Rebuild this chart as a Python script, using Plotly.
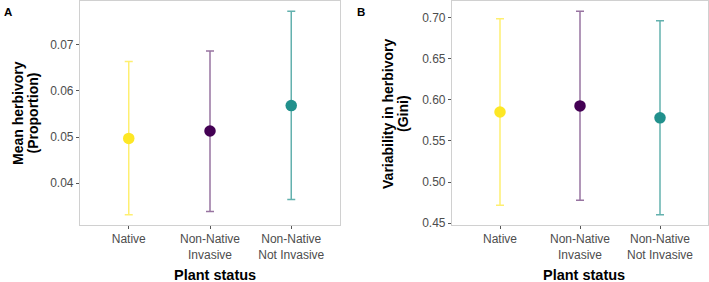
import plotly.graph_objects as go

categories = ["Native", "Non-Native<br>Invasive", "Non-Native<br>Not Invasive"]
colors = ["#FDE725", "#440154", "#21908C"]
bar_colors = ["rgba(253,231,37,0.65)", "rgba(68,1,84,0.55)", "rgba(33,144,140,0.7)"]

mean_herb = [0.0497, 0.0513, 0.0568]
mean_low = [0.0332, 0.0339, 0.0365]
mean_high = [0.0663, 0.0686, 0.0772]

gini = [0.5851, 0.5925, 0.5780]
gini_low = [0.4717, 0.4780, 0.4603]
gini_high = [0.6983, 0.7075, 0.6960]

yticks_a = [0.04, 0.05, 0.06, 0.07]
yticks_b = [0.45, 0.50, 0.55, 0.60, 0.65, 0.70]

fig = go.Figure()

def add_panel(vals, lo, hi, xa, ya):
    for i, c in enumerate(categories):
        fig.add_trace(go.Scatter(
            x=[c], y=[vals[i]], mode="markers",
            marker=dict(color=colors[i], size=11.5),
            error_y=dict(type="data", symmetric=False,
                         array=[hi[i] - vals[i]], arrayminus=[vals[i] - lo[i]],
                         color=bar_colors[i], thickness=1.5, width=4),
            xaxis=xa, yaxis=ya, showlegend=False, hoverinfo="skip"))

add_panel(mean_herb, mean_low, mean_high, "x", "y")
add_panel(gini, gini_low, gini_high, "x2", "y2")

font_ticks = dict(family="Liberation Sans, Arial, sans-serif", size=12, color="#4d4d4d")
axis_common = dict(showline=True, mirror=True, linecolor="#d0d0d0", linewidth=1.2,
                   showgrid=False, zeroline=False, ticks="outside", ticklen=3,
                   tickcolor="#555555", tickwidth=1, tickfont=font_ticks)

def lo_hi(lo, hi):
    mn, mx = min(lo), max(hi)
    pad = 0.05 * (mx - mn)
    return [mn - pad, mx + pad]

fig.update_layout(
    width=709, height=282, margin=dict(l=0, r=0, t=0, b=0),
    paper_bgcolor="white", plot_bgcolor="white",
    xaxis=dict(domain=[80/709, 340/709], type="category", range=[-0.6, 2.6],
               categoryorder="array", categoryarray=categories, anchor="y", **axis_common),
    yaxis=dict(domain=[1-229/282, 1-1/282], range=lo_hi(mean_low, mean_high),
               tickvals=yticks_a, ticktext=[f"{v:.2f}" for v in yticks_a], anchor="x", **axis_common),
    xaxis2=dict(domain=[452/709, 708/709], type="category", range=[-0.6, 2.6],
                categoryorder="array", categoryarray=categories, anchor="y2", **axis_common),
    yaxis2=dict(domain=[1-229/282, 1-1/282], range=lo_hi(gini_low, gini_high),
                tickvals=yticks_b, ticktext=[f"{v:.2f}" for v in yticks_b], anchor="x2", **axis_common),
)

title_font = dict(family="Liberation Sans, Arial, sans-serif", size=14, color="black")
letter_font = dict(family="Liberation Sans, Arial", size=11.5, color="black")
xt_font = dict(family="Liberation Sans, Arial", size=14.5, color="black")
ann = [
    dict(text="<b>A</b>", x=2/709, y=1-4/282, xanchor="left", yanchor="top", font=letter_font),
    dict(text="<b>B</b>", x=355/709, y=1-4/282, xanchor="left", yanchor="top", font=letter_font),
    dict(text="<b>Mean herbivory</b>", x=18/709, y=1-115/282, textangle=-90,
         xanchor="center", yanchor="middle", font=title_font),
    dict(text="<b>(Proportion)</b>", x=32.5/709, y=1-115/282, textangle=-90,
         xanchor="center", yanchor="middle", font=title_font),
    dict(text="<b>Variability in herbivory</b>", x=388/709, y=1-116/282, textangle=-90,
         xanchor="center", yanchor="middle", font=title_font),
    dict(text="<b>(Gini)</b>", x=403/709, y=1-116/282, textangle=-90,
         xanchor="center", yanchor="middle", font=title_font),
    dict(text="<b>Plant status</b>", x=215/709, y=1-280/282, xanchor="center", yanchor="middle",
         font=xt_font),
    dict(text="<b>Plant status</b>", x=584/709, y=1-280/282, xanchor="center", yanchor="middle",
         font=xt_font),
]
for a in ann:
    a.update(xref="paper", yref="paper", showarrow=False)
fig.update_layout(annotations=ann)

fig.write_html("out.html")
